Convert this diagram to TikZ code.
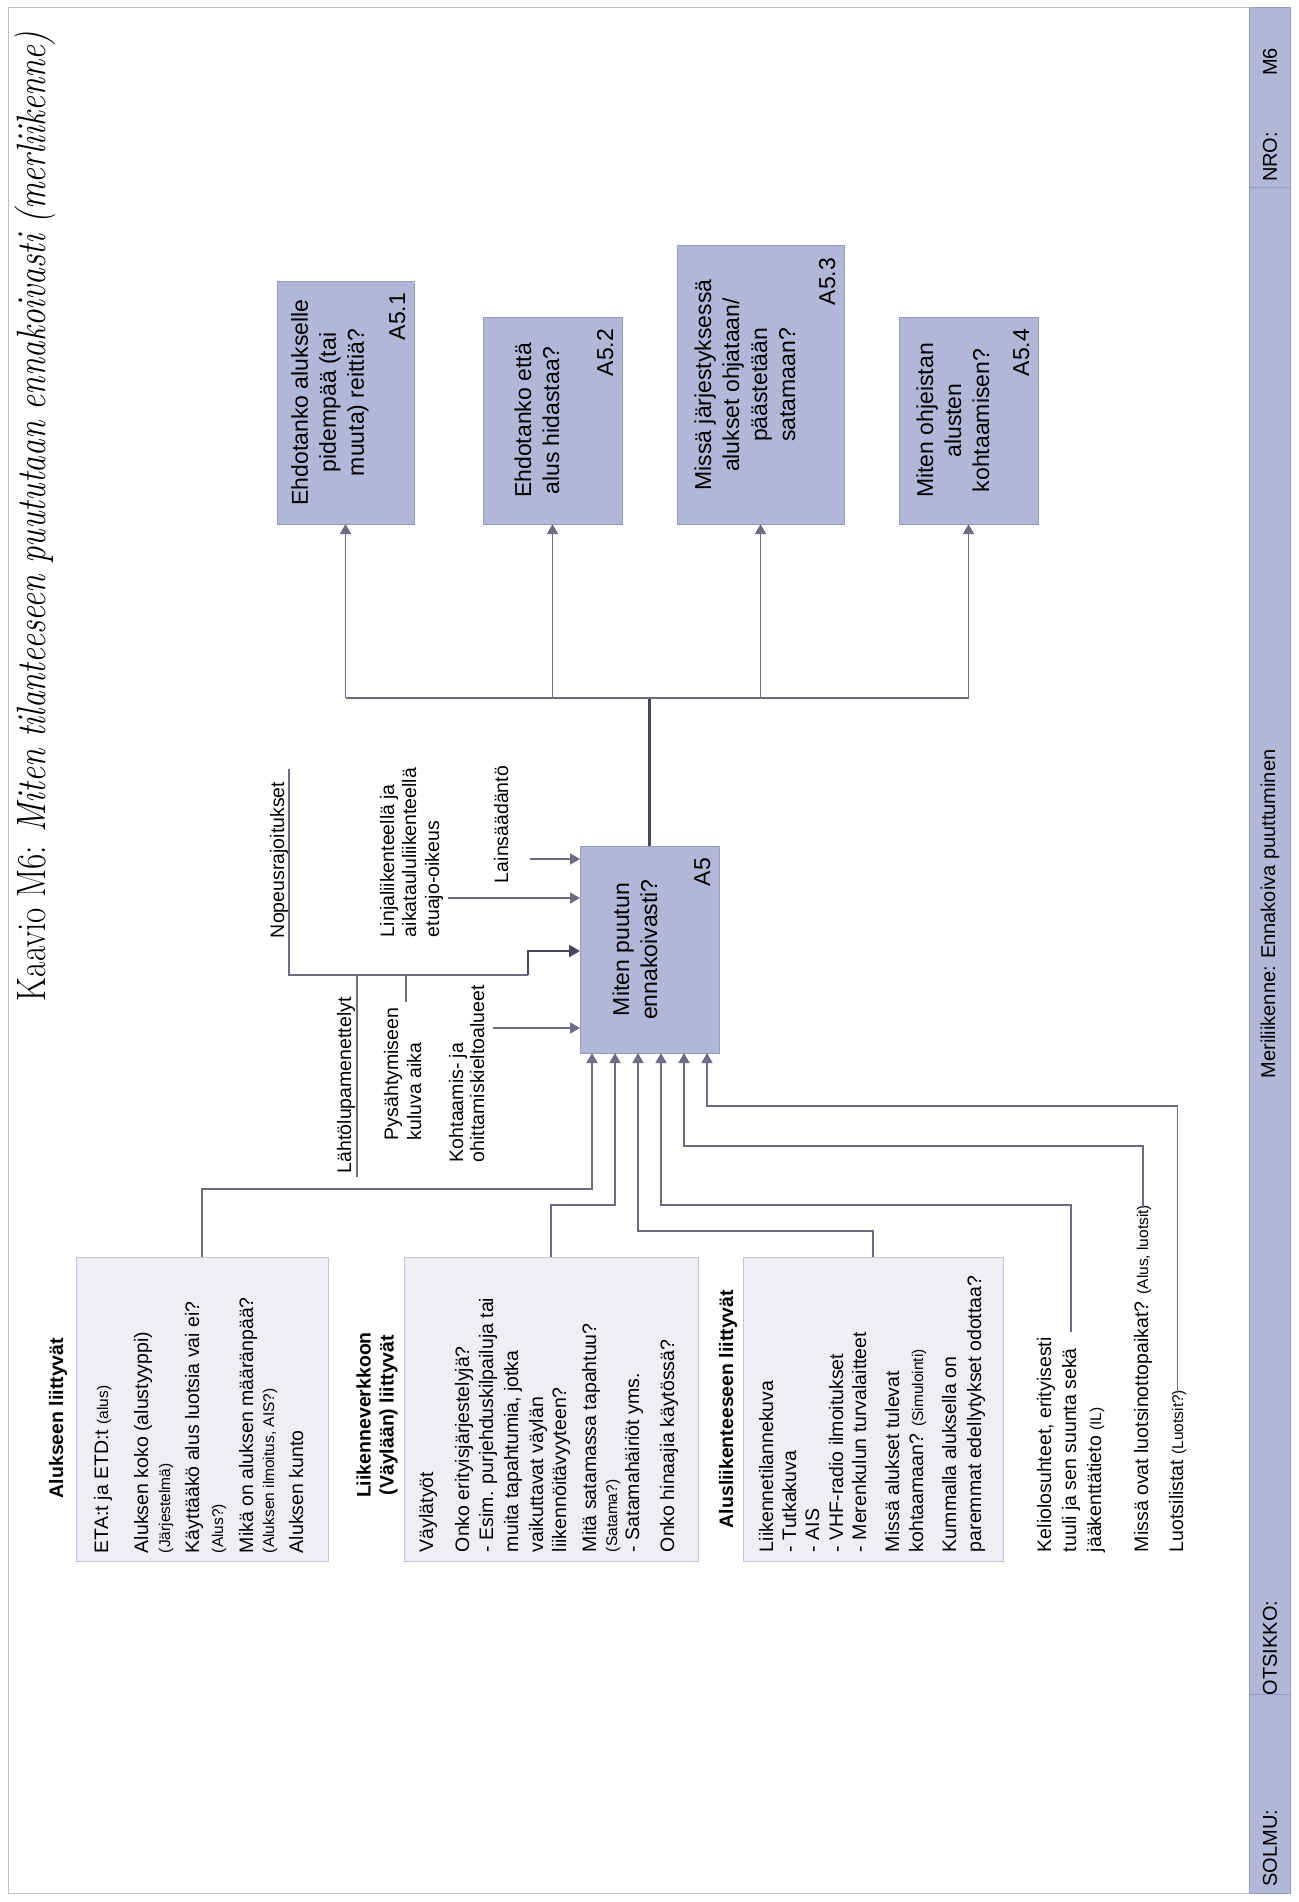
\documentclass[tikz,border=0pt]{standalone}
\usepackage{fontspec}
\newfontfamily\sansf{Liberation Sans}
\usetikzlibrary{arrows.meta}
\definecolor{boxfill}{RGB}{177,183,214}
\definecolor{boxedge}{RGB}{150,156,190}
\definecolor{lfill}{RGB}{238,239,245}
\definecolor{ledge}{RGB}{196,197,208}
\definecolor{linec}{RGB}{108,108,132}
\definecolor{darkc}{RGB}{70,70,95}
\definecolor{framec}{RGB}{190,190,195}
\newcommand\mysmall{\fontsize{15.5}{17}\selectfont}
\begin{document}
\begin{tikzpicture}[x=1pt,y=-1pt,
  every node/.style={inner sep=0pt,outer sep=0pt},
  abox/.style={draw=boxedge,fill=boxfill,line width=1pt},
  lbox/.style={draw=ledge,fill=lfill,line width=1pt},
  cn/.style={draw=linec,line width=1.5pt},
  arr/.style={cn,-{Triangle[length=10pt,width=11pt]}},
  dk/.style={draw=darkc,line width=2.3pt},
  darr/.style={dk,-{Triangle[length=11pt,width=12pt]}},
  rt/.style={rotate=90,anchor=base west,font=\sansf\fontsize{19.5}{23}\selectfont},
  atext/.style={rotate=90,align=center,font=\sansf\fontsize{23}{28}\selectfont},
  alab/.style={rotate=90,anchor=base east,font=\sansf\fontsize{23}{28}\selectfont},
  head/.style={rotate=90,align=center,font=\sansf\bfseries\fontsize{19.5}{23}\selectfont},
  strtext/.style={rotate=90,font=\sansf\fontsize{20}{24}\selectfont},
]
\useasboundingbox (0,0) rectangle (1298,1902);
\fill[white] (0,0) rectangle (1298,1902);
\draw[framec,line width=1pt] (8,8) rectangle (1290,1893);

% title strip
\node[draw=boxedge,fill=boxfill,line width=1pt,minimum width=41pt,minimum height=1885pt] (strip) at (1269.5,950.5) {};
\coordinate (s1) at (0,188);
\coordinate (s2) at (0,1694);
\draw[boxedge,line width=1pt] (strip.west |- s1) -- (strip.east |- s1);
\draw[boxedge,line width=1pt] (strip.west |- s2) -- (strip.east |- s2);
\node[strtext] (m6) at (1270,62) {M6};
\node[strtext] (nro) at (1270,157) {NRO:};
\node[strtext] (mer) at (1270,914) {Meriliikenne: Ennakoiva puuttuminen};
\node[strtext] (ots) at (1270,1648) {OTSIKKO:};
\node[strtext] (sol) at (1270,1848) {SOLMU:};

% title
\node[rotate=90,anchor=base west,font=\fontsize{41}{46}\selectfont] (title) at (45,1001)
  {\scalebox{0.81}[1]{Kaavio M6: \textit{Miten tilanteeseen puututaan ennakoivasti (merliikenne)}}};

% activity boxes
\node[abox,minimum width=137pt,minimum height=243pt] (a51) at (345.5,402.5) {};
\node[abox,minimum width=139pt,minimum height=207pt] (a52) at (552.5,420.5) {};
\node[abox,minimum width=167pt,minimum height=278pt] (a53) at (760.5,385) {};
\node[abox,minimum width=139pt,minimum height=207pt] (a54) at (968.5,420.5) {};
\node[abox,minimum width=139pt,minimum height=207pt] (a5) at (649.5,949.5) {};

\node[atext] (t51) at (330,402.5) {Ehdotanko alukselle\\pidempää (tai\\muuta) reittiä?};
\node[atext] (t52) at (537,420.5) {Ehdotanko että\\alus hidastaa?};
\node[atext] (t53) at (745,385) {Missä järjestyksessä\\alukset ohjataan/\\päästetään\\satamaan?};
\node[atext] (t54) at (953,420.5) {Miten ohjeistan\\alusten\\kohtaamisen?};
\node[atext] (t5) at (635,949.5) {Miten puutun\\ennakoivasti?};

\node[alab] (l51) at (405,293) {A5.1};
\node[alab] (l52) at (613,329) {A5.2};
\node[alab] (l53) at (835,258) {A5.3};
\node[alab] (l54) at (1029,329) {A5.4};
\node[alab] (l5) at (710,858) {A5};

% outputs
\coordinate (bus) at (649.5,698);
\draw[dk] (a5.north) -- (bus);
\draw[cn] (a51.south |- bus) -- (a54.south |- bus);
\foreach \n in {a51,a52,a53,a54}{
  \draw[arr] (\n.south |- bus) -- (\n.south);
}

% controls (left side)
\node[rt] (nop) at (284,938) {Nopeusrajoitukset};
\node[rt] (lin1) at (394,937) {Linjaliikenteellä ja};
\node[rt] (lin2) at (416,937) {aikataululiikenteellä};
\node[rt] (lin3) at (439,937) {etuajo-oikeus};
\node[rt] (lai) at (508,883) {Lainsäädäntö};
\node[rt] (lah) at (351,1173) {Lähtölupamenettelyt};
\node[rt] (pys1) at (398,1140) {Pysähtymiseen};
\node[rt] (pys2) at (421,1140) {kuluva aika};
\node[rt] (koh1) at (463,1162) {Kohtaamis- ja};
\node[rt] (koh2) at (484,1162) {ohittamiskieltoalueet};

\coordinate (nopT) at (289,769);
\coordinate (brk) at (289,975);
\coordinate (stp) at (528,975);
\coordinate (lahB) at (357,1177);
\coordinate (pysB) at (406,1002);
\coordinate (c1) at (530,859);
\coordinate (c2) at (448,898);
\coordinate (c3) at (528,951);
\coordinate (c4) at (493,1028);
\draw[cn] (nopT) -- (brk) -- (stp);
\draw[cn] (lahB) -- (lahB |- brk);
\draw[cn] (pysB) -- (pysB |- brk);
\draw[darr] (stp) -- (c3) -- (c3 -| a5.west);
\draw[arr] (c1) -- (c1 -| a5.west);
\draw[arr] (c2) -- (c2 -| a5.west);
\draw[arr] (c4) -- (c4 -| a5.west);

% input boxes
\node[lbox,minimum width=252pt,minimum height=304pt] (alu) at (202,1409) {};
\node[lbox,minimum width=294pt,minimum height=304pt] (lii) at (551,1409) {};
\node[lbox,minimum width=260pt,minimum height=304pt] (asl) at (873,1409) {};

\node[head] (h1) at (58,1418) {Alukseen liittyvät};
\node[head] (h2) at (377,1415) {Liikenneverkkoon\\(Väylään) liittyvät};
\node[head] (h3) at (728,1409) {Alusliikenteeseen liittyvät};

\foreach \px/\tx [count=\i] in {
  108/{ETA:t ja ETD:t {\mysmall (alus)}},
  148/{Aluksen koko (alustyyppi)},
  170/{{\mysmall (Järjestelmä)}},
  199/{Käyttääkö alus luotsia vai ei?},
  223/{{\mysmall (Alus?)}},
  253/{Mikä on aluksen määränpää?},
  274/{{\mysmall (Aluksen ilmoitus, AIS?)}},
  303/{Aluksen kunto}}
  \node[rt] (alt\i) at (\px,1553) {\tx};

\foreach \px/\tx [count=\i] in {
  433/{Väylätyöt},
  469/{Onko erityisjärjestelyjä?},
  493/{ - Esim. purjehduskilpailuja tai},
  518/{muita tapahtumia, jotka},
  543/{vaikuttavat väylän},
  566/{liikennöitävyyteen?},
  596/{Mitä satamassa tapahtuu?},
  617/{{\mysmall (Satama?)}},
  639/{ - Satamahäiriöt yms.},
  674/{Onko hinaajia käytössä?}}
  \node[rt] (lit\i) at (\px,1552) {\tx};

\foreach \px/\tx [count=\i] in {
  773/{Liikennetilannekuva},
  796/{ - Tutkakuva},
  819/{ - AIS},
  843/{ - VHF-radio ilmoitukset},
  866/{ - Merenkulun turvalaitteet},
  899/{Missä alukset tulevat},
  923/{kohtaamaan? {\mysmall (Simulointi)}},
  956/{Kummalla aluksella on},
  981/{paremmat edellytykset odottaa?}}
  \node[rt] (ast\i) at (\px,1552) {\tx};

\node[rt] (kel1) at (1051,1552) {Keliolosuhteet, erityisesti};
\node[rt] (kel2) at (1076,1552) {tuuli ja sen suunta sekä};
\node[rt] (kel3) at (1101,1552) {jääkenttätieto {\mysmall (IL)}};
\node[rt] (lot) at (1148,1552) {Missä ovat luotsinottopaikat? {\mysmall (Alus, luotsit)}};
\node[rt] (lst) at (1183,1552) {Luotsilistat {\mysmall (Luotsit?)}};

% inputs (bottom)
\coordinate (p1) at (592,1053);
\coordinate (p2) at (615,1053);
\coordinate (p3) at (638,1053);
\coordinate (p4) at (661,1053);
\coordinate (p5) at (684,1053);
\coordinate (p6) at (707,1053);
\coordinate (kelB) at (1071,1332);
\coordinate (y1) at (0,1189);
\coordinate (y2) at (0,1205);
\coordinate (y3) at (0,1231);
\coordinate (y5) at (0,1146);
\coordinate (y6) at (0,1106);
\draw[arr] (alu.north) -- (alu.north |- y1) -| (p1);
\draw[arr] (lii.north) -- (lii.north |- y2) -| (p2);
\draw[arr] (asl.north) -- (asl.north |- y3) -| (p3);
\draw[arr] (kelB) -- (kelB |- y2) -| (p4);
\draw[arr] ([yshift=-3pt]lot.east) -- (lot.east |- y5) -| (p5);
\draw[arr] ([yshift=-3pt]lst.east) -- (lst.east |- y6) -| (p6);
\end{tikzpicture}
\end{document}
